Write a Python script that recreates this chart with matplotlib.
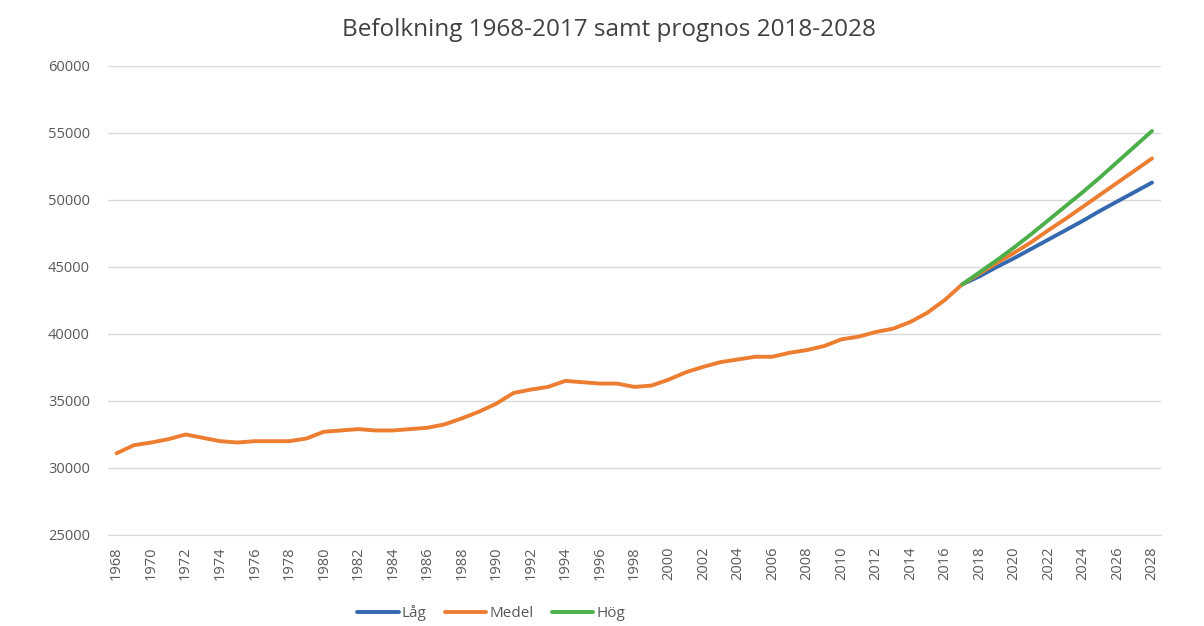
import matplotlib.pyplot as plt
import numpy as np

plt.rcParams['font.family'] = ['Open Sans', 'DejaVu Sans']

# historik + prognos (Medel)
years_hist = list(range(1968, 2018))
pop_hist = [31100, 31700, 31900, 32150, 32500, 32250, 32000, 31900, 32000, 32000,
            32000, 32200, 32700, 32800, 32900, 32800, 32800, 32900, 33000, 33250,
            33700, 34200, 34800, 35600, 35850, 36050, 36500, 36400, 36300, 36300,
            36050, 36150, 36600, 37150, 37550, 37900, 38100, 38300, 38300, 38600,
            38800, 39100, 39600, 39800, 40150, 40400, 40900, 41600, 42550, 43700]

years_prog = list(range(2017, 2029))
lag = [43700, 44300, 45000, 45650, 46350, 47050, 47750, 48450, 49200, 49900, 50600, 51300]
medel = [43700, 44500, 45300, 46050, 46850, 47750, 48600, 49500, 50400, 51300, 52200, 53100]
hog = [43700, 44600, 45500, 46450, 47450, 48500, 49550, 50600, 51700, 52850, 54000, 55150]

fig = plt.figure(figsize=(12.04, 6.26), dpi=100)
ax = fig.add_axes([0.0897, 0.1454, 0.8743, 0.7492])

c_lag = '#3469B0'
c_med = '#ED7D31'
c_hog = '#4DAF4A'

ax.plot(years_prog, lag, color=c_lag, lw=2.8, label='Låg', solid_capstyle='round')
ax.plot(years_hist + years_prog[1:], pop_hist + medel[1:], color=c_med, lw=2.8,
        label='Medel', solid_capstyle='round', zorder=3)
ax.plot(years_prog, hog, color=c_hog, lw=2.8, label='Hög', solid_capstyle='round', zorder=4)

ax.set_xlim(1967.5, 2028.5)
ax.set_ylim(25000, 60000)
ax.set_yticks(np.arange(25000, 60001, 5000))
ax.set_xticks(range(1968, 2029, 2))
ax.set_xticklabels([str(y) for y in range(1968, 2029, 2)], rotation=90)

ax.grid(axis='y', color='#D9D9D9', lw=1)
ax.set_axisbelow(True)
for s in ['top', 'right', 'left']:
    ax.spines[s].set_visible(False)
ax.spines['bottom'].set_color('#D9D9D9')
ax.tick_params(axis='both', length=0, colors='#595959', labelsize=10.5)
ax.tick_params(axis='y', pad=13)
ax.tick_params(axis='x', pad=8)

fig.suptitle('Befolkning 1968-2017 samt prognos 2018-2028', x=0.506, y=0.972,
             fontsize=17.5, color='#404040')

fig.legend(loc='center', bbox_to_anchor=(0.408, 0.021), ncol=3, frameon=False,
           fontsize=11, labelcolor='#595959', handlelength=2.7, handletextpad=0.2,
           columnspacing=1.2)

fig.savefig('out.png', dpi=100, facecolor='white')
